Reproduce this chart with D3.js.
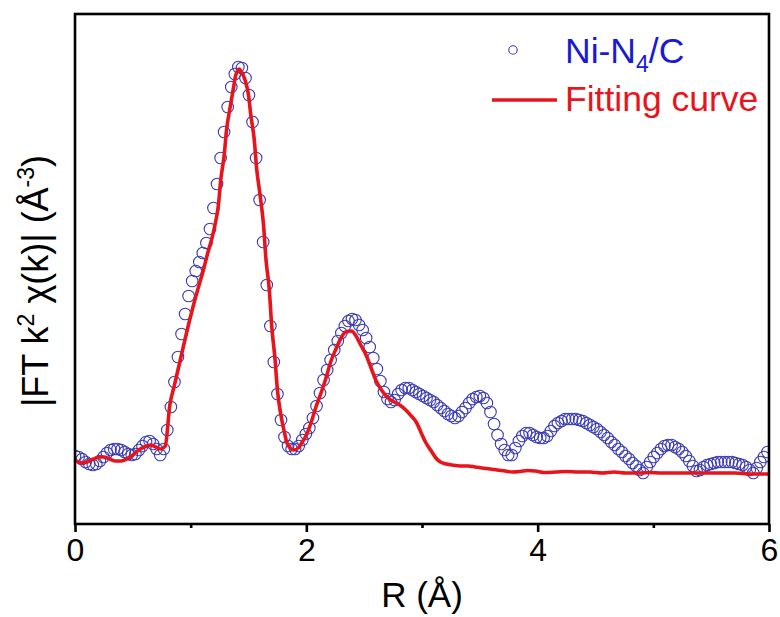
<!DOCTYPE html>
<html>
<head>
<meta charset="utf-8">
<script src="https://cdn.jsdelivr.net/npm/d3@7"></script>
<style>
  html, body { margin: 0; padding: 0; background: #fff; }
  svg { display: block; font-family: "Liberation Sans", Arial, sans-serif; }
</style>
</head>
<body>
<svg id="chart" width="780" height="617"></svg>
<script>
// Ni-N4/C EXAFS: magnitude of the Fourier transform of k^2-weighted chi(k)
const xTicks = [0, 2, 4, 6];
const xMinorTicks = [1, 3, 5];

// measured spectrum, R grid (Å)
const dataR = [
  0.000, 0.031, 0.061, 0.092, 0.123, 0.154, 0.184, 0.215, 0.246, 0.276,
  0.307, 0.338, 0.368, 0.399, 0.430, 0.461, 0.491, 0.522, 0.553, 0.583,
  0.614, 0.645, 0.675, 0.706, 0.737, 0.768, 0.798, 0.829, 0.860, 0.890,
  0.921, 0.952, 0.982, 1.013, 1.044, 1.075, 1.105, 1.136, 1.167, 1.197,
  1.228, 1.259, 1.289, 1.320, 1.351, 1.382, 1.412, 1.443, 1.474, 1.504,
  1.535, 1.566, 1.596, 1.627, 1.658, 1.689, 1.719, 1.750, 1.781, 1.811,
  1.842, 1.873, 1.903, 1.934, 1.965, 1.996, 2.026, 2.057, 2.088, 2.118,
  2.149, 2.180, 2.210, 2.241, 2.272, 2.303, 2.333, 2.364, 2.395, 2.425,
  2.456, 2.487, 2.517, 2.548, 2.579, 2.610, 2.640, 2.671, 2.702, 2.732,
  2.763, 2.794, 2.824, 2.855, 2.886, 2.917, 2.947, 2.978, 3.009, 3.039,
  3.070, 3.101, 3.131, 3.162, 3.193, 3.224, 3.254, 3.285, 3.316, 3.346,
  3.377, 3.408, 3.438, 3.469, 3.500, 3.531, 3.561, 3.592, 3.623, 3.653,
  3.684, 3.715, 3.745, 3.776, 3.807, 3.838, 3.868, 3.899, 3.930, 3.960,
  3.991, 4.022, 4.052, 4.083, 4.114, 4.145, 4.175, 4.206, 4.237, 4.267,
  4.298, 4.329, 4.359, 4.390, 4.421, 4.452, 4.482, 4.513, 4.544, 4.574,
  4.605, 4.636, 4.666, 4.697, 4.728, 4.759, 4.789, 4.820, 4.851, 4.881,
  4.912, 4.943, 4.973, 5.004, 5.035, 5.066, 5.096, 5.127, 5.158, 5.188,
  5.219, 5.250, 5.280, 5.311, 5.342, 5.373, 5.403, 5.434, 5.465, 5.495,
  5.526, 5.557, 5.587, 5.618, 5.649, 5.680, 5.710, 5.741, 5.772, 5.802,
  5.833, 5.864, 5.894, 5.925, 5.956, 5.987
];
// measured |FT| (arb. units)
const dataFT = [
  1.36, 1.34, 1.30, 1.24, 1.20, 1.18, 1.20, 1.26, 1.34, 1.42,
  1.48, 1.50, 1.50, 1.48, 1.44, 1.40, 1.38, 1.40, 1.48, 1.56,
  1.64, 1.66, 1.60, 1.50, 1.38, 1.50, 1.88, 2.34, 2.84, 3.34,
  3.80, 4.20, 4.56, 4.86, 5.06, 5.24, 5.42, 5.62, 5.90, 6.32,
  6.80, 7.32, 7.84, 8.34, 8.74, 9.00, 9.14, 9.12, 8.92, 8.58,
  8.04, 7.32, 6.48, 5.64, 4.78, 3.96, 3.24, 2.60, 2.08, 1.74,
  1.56, 1.50, 1.50, 1.56, 1.68, 1.80, 1.92, 2.12, 2.36, 2.62,
  2.88, 3.08, 3.28, 3.48, 3.66, 3.82, 3.96, 4.06, 4.10, 4.08,
  3.98, 3.88, 3.72, 3.54, 3.32, 3.10, 2.86, 2.64, 2.50, 2.44,
  2.48, 2.60, 2.68, 2.72, 2.72, 2.68, 2.64, 2.60, 2.56, 2.52,
  2.48, 2.44, 2.38, 2.32, 2.26, 2.20, 2.16, 2.12, 2.16, 2.24,
  2.32, 2.42, 2.50, 2.54, 2.56, 2.52, 2.42, 2.24, 2.00, 1.78,
  1.60, 1.48, 1.38, 1.38, 1.52, 1.66, 1.76, 1.82, 1.82, 1.78,
  1.74, 1.72, 1.72, 1.76, 1.86, 1.96, 2.02, 2.06, 2.10, 2.10,
  2.10, 2.10, 2.08, 2.06, 2.02, 1.98, 1.94, 1.90, 1.84, 1.78,
  1.72, 1.64, 1.58, 1.50, 1.44, 1.36, 1.30, 1.22, 1.16, 1.08,
  1.02, 1.14, 1.24, 1.34, 1.42, 1.50, 1.56, 1.58, 1.58, 1.54,
  1.50, 1.44, 1.36, 1.26, 1.16, 1.06, 1.08, 1.14, 1.18, 1.20,
  1.22, 1.24, 1.24, 1.24, 1.24, 1.24, 1.22, 1.20, 1.18, 1.14,
  1.08, 1.02, 1.12, 1.24, 1.34, 1.44
];

// fitted model
const fitR = [
  0.00, 0.05, 0.10, 0.16, 0.21, 0.25, 0.30, 0.35, 0.40, 0.45,
  0.50, 0.55, 0.60, 0.65, 0.70, 0.74, 0.78, 0.82, 0.86, 0.91,
  0.96, 1.02, 1.06, 1.11, 1.15, 1.18, 1.21, 1.24, 1.26, 1.29,
  1.31, 1.34, 1.37, 1.39, 1.42, 1.44, 1.47, 1.50, 1.52, 1.55,
  1.57, 1.60, 1.63, 1.65, 1.68, 1.70, 1.73, 1.75, 1.78, 1.81,
  1.83, 1.86, 1.89, 1.93, 1.96, 2.00, 2.04, 2.08, 2.13, 2.17,
  2.21, 2.26, 2.30, 2.34, 2.39, 2.43, 2.47, 2.52, 2.56, 2.60,
  2.65, 2.69, 2.73, 2.78, 2.82, 2.86, 2.90, 2.95, 2.99, 3.03,
  3.08, 3.12, 3.16, 3.21, 3.26, 3.33, 3.40, 3.46, 3.52, 3.59,
  3.65, 3.72, 3.78, 3.85, 3.91, 3.98, 4.06, 4.16, 4.25, 4.35,
  4.45, 4.56, 4.66, 4.76, 4.87, 4.97, 5.07, 5.19, 5.32, 5.45,
  5.58, 5.71, 5.84, 6.00
];
const fitFT = [
  1.28, 1.22, 1.24, 1.30, 1.34, 1.34, 1.30, 1.26, 1.26, 1.30,
  1.38, 1.48, 1.54, 1.58, 1.54, 1.50, 1.56, 2.38, 2.78, 3.28,
  3.78, 4.34, 4.68, 5.08, 5.44, 5.68, 5.98, 6.38, 6.88, 7.38,
  7.88, 8.32, 8.72, 8.98, 9.10, 9.04, 8.88, 8.58, 8.18, 7.68,
  7.12, 6.58, 5.98, 5.32, 4.68, 3.98, 3.28, 2.68, 2.18, 1.84,
  1.64, 1.52, 1.48, 1.52, 1.62, 1.78, 2.02, 2.32, 2.64, 2.92,
  3.24, 3.52, 3.72, 3.84, 3.86, 3.76, 3.58, 3.36, 3.12, 2.88,
  2.68, 2.56, 2.48, 2.42, 2.36, 2.28, 2.18, 2.04, 1.84, 1.64,
  1.46, 1.32, 1.24, 1.20, 1.18, 1.16, 1.16, 1.14, 1.12, 1.10,
  1.08, 1.06, 1.04, 1.05, 1.07, 1.06, 1.03, 1.04, 1.05, 1.04,
  1.04, 1.02, 1.04, 1.02, 1.02, 1.03, 1.02, 1.02, 1.02, 1.02,
  1.02, 1.02, 1.00, 1.00
];

const legendLabels = ["Ni-N", "4", "/C", "Fitting curve"];

const svg = d3.select("#chart");
const W = 780, H = 617;
const margin = { left: 75, right: 11, top: 14, bottom: 93 };
const plotW = W - margin.left - margin.right;
const plotH = H - margin.top - margin.bottom;

svg.append("rect").attr("width", W).attr("height", H).attr("fill", "#fff");

const x = d3.scaleLinear().domain([0, 6]).range([margin.left, margin.left + plotW]);
const y = d3.scaleLinear().domain([0, 10.2]).range([margin.top + plotH, margin.top]);

const blue = "#3a3ab4";
const red = "#e8141c";

// clip region for marks
svg.append("clipPath").attr("id", "plotClip")
  .append("rect")
  .attr("x", margin.left).attr("y", margin.top)
  .attr("width", plotW).attr("height", plotH);

const marks = svg.append("g").attr("clip-path", "url(#plotClip)");

// measured points as open circles
marks.append("g")
  .selectAll("circle")
  .data(dataR.map((r, i) => [r, dataFT[i]]))
  .join("circle")
  .attr("cx", d => x(d[0]))
  .attr("cy", d => y(d[1]))
  .attr("r", 5.8)
  .attr("fill", "none")
  .attr("stroke", blue)
  .attr("stroke-width", 1.1);

// fitted curve
const line = d3.line()
  .x(d => x(d[0]))
  .y(d => y(d[1]))
  .curve(d3.curveMonotoneX);

marks.append("path")
  .datum(fitR.map((r, i) => [r, fitFT[i]]))
  .attr("d", line)
  .attr("fill", "none")
  .attr("stroke", red)
  .attr("stroke-width", 3.6)
  .attr("stroke-linejoin", "round");

// frame
svg.append("rect")
  .attr("x", margin.left).attr("y", margin.top)
  .attr("width", plotW).attr("height", plotH)
  .attr("fill", "none")
  .attr("stroke", "#000")
  .attr("stroke-width", 2.6);

// bottom axis: major ticks with labels, minor ticks between
const xAxis = d3.axisBottom(x).tickValues(xTicks).tickSize(8).tickPadding(6).tickFormat(d3.format("d"));
const gx = svg.append("g")
  .attr("transform", `translate(0,${margin.top + plotH})`)
  .call(xAxis);
gx.select(".domain").remove();
gx.selectAll(".tick line").attr("stroke", "#000").attr("stroke-width", 2.6);
gx.selectAll(".tick text")
  .attr("fill", "#000")
  .attr("font-size", 32)
  .attr("font-family", "Liberation Sans, Arial, sans-serif");

const gxMinor = svg.append("g")
  .attr("transform", `translate(0,${margin.top + plotH})`)
  .call(d3.axisBottom(x).tickValues(xMinorTicks).tickSize(4).tickFormat(""));
gxMinor.select(".domain").remove();
gxMinor.selectAll(".tick line").attr("stroke", "#000").attr("stroke-width", 2.6);

// axis titles
svg.append("text")
  .attr("x", x(3))
  .attr("y", 607)
  .attr("text-anchor", "middle")
  .attr("font-size", 35)
  .attr("fill", "#000")
  .text("R (Å)");

const yTitle = svg.append("text")
  .attr("transform", `translate(48,${margin.top + plotH / 2 + 12}) rotate(-90)`)
  .attr("text-anchor", "middle")
  .attr("font-size", 36)
  .attr("fill", "#000");
yTitle.append("tspan").text("|FT k");
yTitle.append("tspan").attr("dy", -14).attr("font-size", 23).text("2");
yTitle.append("tspan").attr("dy", 14).text(" χ(k)| (Å");
yTitle.append("tspan").attr("dy", -14).attr("font-size", 23).text("-3");
yTitle.append("tspan").attr("dy", 14).text(")");

// legend
const lg = svg.append("g");
lg.append("circle")
  .attr("cx", 513).attr("cy", 50).attr("r", 4.2)
  .attr("fill", "none").attr("stroke", blue).attr("stroke-width", 1.1);
const t1 = lg.append("text")
  .attr("x", 565).attr("y", 63)
  .attr("font-size", 35.5)
  .attr("fill", "#1a1ad2");
t1.append("tspan").text(legendLabels[0]);
t1.append("tspan").attr("dy", 9).attr("font-size", 23).text(legendLabels[1]);
t1.append("tspan").attr("dy", -9).text(legendLabels[2]);

lg.append("line")
  .attr("x1", 492).attr("x2", 557).attr("y1", 100).attr("y2", 100)
  .attr("stroke", red).attr("stroke-width", 3.6);
lg.append("text")
  .attr("x", 565).attr("y", 111)
  .attr("font-size", 35.5)
  .attr("fill", red)
  .text(legendLabels[3]);
</script>
</body>
</html>
